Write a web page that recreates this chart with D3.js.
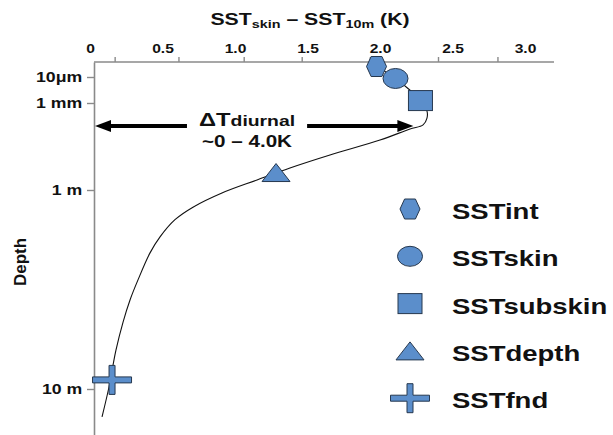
<!DOCTYPE html>
<html>
<head>
<meta charset="utf-8">
<script src="https://cdn.jsdelivr.net/npm/d3@7"></script>
<style>
  html, body { margin: 0; padding: 0; background: #fff; }
  svg { display: block; font-family: "Liberation Sans", Arial, sans-serif; font-weight: bold; }
</style>
</head>
<body>
<svg id="chart" width="613" height="435"></svg>
<script>
// Upper-ocean temperature profile: temperature difference to 10 m versus depth.

// Horizontal axis: labelled values and the (offset) tick marks along the top.
const kTickLabels = [0, 0.5, 1.0, 1.5, 2.0, 2.5, 3.0];
const kTickMarks = [0.17, 0.61, 1.06, 1.46, 1.93, 2.40, 2.81];

// Depth axis (metres) and its labels.
const depthTicks = [1e-5, 1e-3, 1, 10];
const depthTickLabels = ["10\u03bcm", "1 mm", "1 m", "10 m"];

// Named SST levels.
const markerNames = ["SSTint", "SSTskin", "SSTsubskin", "SSTdepth", "SSTfnd"];
const markerShapes = ["hexagon", "ellipse", "square", "triangle", "cross"];
const markerK = [1.976, 2.107, 2.279, 1.283, 0.152];
const markerDepth = [2e-6, 1.3e-5, 6.5e-4, 0.25, 9.0];

// Continuous profile through the levels.
const profileK = [1.976, 2.107, 2.279, 2.324, 2.324, 2.297, 2.207, 2.0, 1.655, 1.379,
                  1.152, 0.910, 0.710, 0.586, 0.483, 0.414, 0.331, 0.276, 0.228, 0.179,
                  0.159, 0.131, 0.083];
const profileDepth = [2e-6, 1.3e-5, 6.5e-4, 1.9e-3, 3.3e-3, 5.7e-3, 7.9e-3, 0.019, 0.062, 0.174,
                      0.45, 1.035, 1.22, 1.41, 1.72, 2.07, 2.83, 3.57, 4.61, 6.37,
                      7.57, 9.77, 13.8];

// Diurnal warming annotation.
const diurnalDepth = 0.0062;
const diurnalTextK = 1.083;
const diurnalArrowK = 2.23;

const svg = d3.select("#chart");
const fill = "#5b8ecb", edge = "#26384f", axisGrey = "#8a8a8a";
const stretch = 1.25;      // wide lettering used for horizontal text

const xScale = d3.scaleLinear().domain([0, 3.2]).range([90, 554]);
// Piecewise log scale: the depth axis is compressed near the surface.
const yScale = d3.scaleLog()
  .domain([1e-6, 1e-5, 1e-3, 1, 10, 20])
  .range([62, 77, 103, 190, 389, 449]);
const axisX = 94;
const axisY = yScale(1e-6);

// ---- axes ----
svg.append("line")
  .attr("x1", axisX).attr("x2", xScale(3.2))
  .attr("y1", axisY).attr("y2", axisY)
  .attr("stroke", axisGrey).attr("stroke-width", 1.6);

const tickMarkAxis = svg.append("g")
  .attr("transform", `translate(0,${axisY})`)
  .call(d3.axisTop(xScale).tickValues(kTickMarks).tickSize(5).tickFormat(""));
tickMarkAxis.select(".domain").remove();
tickMarkAxis.selectAll("line").attr("stroke", axisGrey).attr("stroke-width", 1.4);

const labelAxis = svg.append("g")
  .attr("transform", `translate(0,${axisY})`)
  .call(d3.axisTop(xScale).tickValues(kTickLabels).tickSize(0).tickPadding(9)
        .tickFormat(d => d === 0 ? "0" : d3.format(".1f")(d)));
labelAxis.select(".domain").remove();
labelAxis.selectAll("text")
  .attr("font-family", "Liberation Sans, Arial, sans-serif")
  .attr("font-weight", "bold").attr("font-size", 12.5).attr("fill", "#111")
  .attr("transform", `scale(${stretch},1)`);

const yAxis = svg.append("g")
  .attr("transform", `translate(${axisX},0)`)
  .call(d3.axisLeft(yScale).tickValues(depthTicks).tickSize(7).tickSizeOuter(0).tickPadding(3)
        .tickFormat((d, i) => depthTickLabels[i]));
yAxis.select(".domain").attr("stroke", axisGrey).attr("stroke-width", 1.6);
yAxis.selectAll(".tick line").attr("stroke", axisGrey).attr("stroke-width", 1.4);
yAxis.selectAll("text")
  .attr("font-family", "Liberation Sans, Arial, sans-serif")
  .attr("font-weight", "bold").attr("font-size", 15).attr("fill", "#111")
  .attr("transform", `scale(1.18,1)`);

// ---- titles ----
function stretchedText(x, y, anchor) {
  return svg.append("g")
    .attr("transform", `translate(${x},${y}) scale(${stretch},1)`)
    .append("text").attr("text-anchor", anchor).attr("fill", "#111");
}

const title = stretchedText(310, 25, "middle").attr("font-size", 17);
title.append("tspan").text("SST");
title.append("tspan").attr("font-size", 11.5).attr("dy", 3).text("skin");
title.append("tspan").attr("dy", -3).text(" \u2013 SST");
title.append("tspan").attr("font-size", 11.5).attr("dy", 3).text("10m");
title.append("tspan").attr("dy", -3).text(" (K)");

svg.append("text")
  .attr("transform", "translate(26,262) rotate(-90)")
  .attr("text-anchor", "middle").attr("font-size", 17).attr("fill", "#111")
  .text("Depth");

// ---- profile curve ----
const profile = profileK.map((k, i) => [k, profileDepth[i]]);
svg.append("path")
  .datum(profile)
  .attr("fill", "none").attr("stroke", "#111").attr("stroke-width", 1.1)
  .attr("d", d3.line().x(d => xScale(d[0])).y(d => yScale(d[1])).curve(d3.curveCatmullRom.alpha(0.5)));

// ---- diurnal annotation ----
const yArrow = yScale(diurnalDepth);
const line1 = stretchedText(xScale(diurnalTextK), yArrow, "middle").attr("font-size", 19);
line1.append("tspan").text("\u0394T");
line1.append("tspan").attr("font-size", 15.5).text("diurnal");
stretchedText(xScale(diurnalTextK), yArrow + 21, "middle").attr("font-size", 16.5)
  .text("~0 \u2013 4.0K");

const tb = line1.node().getBoundingClientRect();
const headLen = 16, headHalf = 6, gap = 12;
function arrow(xFrom, xTip) {
  const dir = Math.sign(xTip - xFrom);
  svg.append("line")
    .attr("x1", xFrom).attr("x2", xTip - dir * headLen * 0.8)
    .attr("y1", yArrow).attr("y2", yArrow)
    .attr("stroke", "#000").attr("stroke-width", 4);
  svg.append("path")
    .attr("d", `M${xTip},${yArrow} L${xTip - dir * headLen},${yArrow - headHalf} L${xTip - dir * headLen},${yArrow + headHalf} Z`)
    .attr("fill", "#000");
}
arrow(tb.left - gap, axisX + 1);
arrow(tb.right + gap, xScale(diurnalArrowK));

// ---- marker shapes ----
const shapeSize = {
  hexagon: [20, 20], ellipse: [25, 20], square: [24, 20], triangle: [28, 18], cross: [39, 29]
};
function drawShape(g, shape) {
  const [w, h] = shapeSize[shape];
  const attrs = s => s.attr("fill", fill).attr("stroke", edge).attr("stroke-width", 1);
  if (shape === "ellipse") {
    attrs(g.append("ellipse").attr("rx", w / 2).attr("ry", h / 2));
  } else if (shape === "square") {
    attrs(g.append("rect").attr("x", -w / 2).attr("y", -h / 2).attr("width", w).attr("height", h));
  } else if (shape === "hexagon") {
    const a = w / 2, b = w * 0.27, c = h / 2;
    attrs(g.append("path").attr("d", `M${-a},0 L${-b},${-c} L${b},${-c} L${a},0 L${b},${c} L${-b},${c} Z`));
  } else if (shape === "triangle") {
    attrs(g.append("path").attr("d", `M0,${-h / 2} L${w / 2},${h / 2} L${-w / 2},${h / 2} Z`));
  } else if (shape === "cross") {
    const t = 3;
    attrs(g.append("path").attr("d",
      `M${-t},${-h / 2} H${t} V${-t} H${w / 2} V${t} H${t} V${h / 2} H${-t} V${t} H${-w / 2} V${-t} H${-t} Z`));
  }
}

markerNames.forEach((name, i) => {
  const g = svg.append("g")
    .attr("transform", `translate(${xScale(markerK[i])},${yScale(markerDepth[i])})`);
  drawShape(g, markerShapes[i]);
});

// ---- legend ----
const legendX = 410, legendTextX = 452, legendY0 = 219, legendStep = 47.3;
markerNames.forEach((name, i) => {
  const yb = legendY0 + i * legendStep;
  const g = svg.append("g").attr("transform", `translate(${legendX},${yb - 10})`);
  drawShape(g, markerShapes[i]);
  stretchedText(legendTextX, yb, "start").attr("font-size", 22).text(name);
});
</script>
</body>
</html>
